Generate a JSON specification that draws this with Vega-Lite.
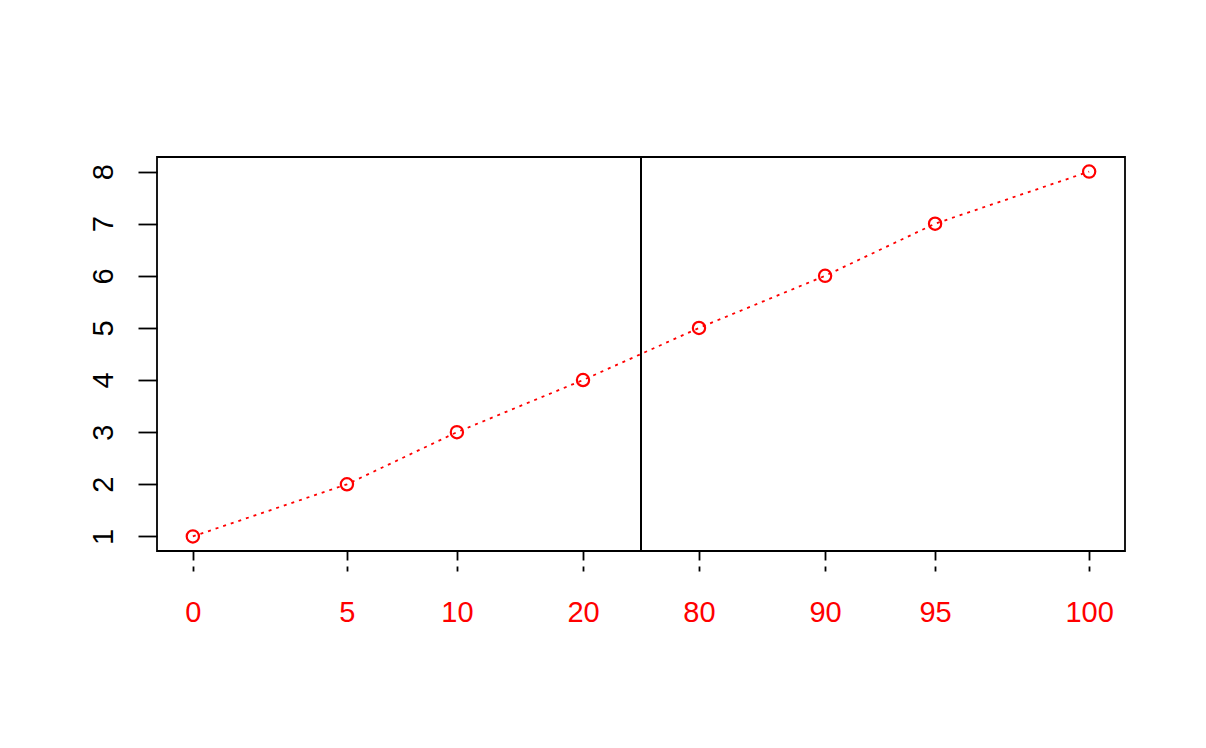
{
  "$schema": "https://vega.github.io/schema/vega-lite/v6.json",
  "autosize": {"type": "none"},
  "padding": {"left": 157, "top": 157, "right": 81, "bottom": 197},
  "width": 968,
  "height": 394,
  "background": "white",
  "config": {
    "view": {"stroke": "black", "strokeWidth": 1.8},
    "font": "Liberation Sans"
  },
  "data": {
    "values": [
      {"pos": 0, "y": 1, "label": "0"},
      {"pos": 17.19, "y": 2, "label": "5"},
      {"pos": 29.46, "y": 3, "label": "10"},
      {"pos": 43.53, "y": 4, "label": "20"},
      {"pos": 56.47, "y": 5, "label": "80"},
      {"pos": 70.54, "y": 6, "label": "90"},
      {"pos": 82.81, "y": 7, "label": "95"},
      {"pos": 100, "y": 8, "label": "100"}
    ]
  },
  "layer": [
    {
      "mark": {"type": "line", "color": "red", "strokeWidth": 1.8, "strokeDash": [3, 5]},
      "encoding": {
        "x": {
          "field": "pos", "type": "quantitative",
          "scale": {"domain": [-4, 104], "nice": false, "zero": false},
          "axis": {
            "title": null,
            "values": [0, 17.19, 29.46, 43.53, 56.47, 70.54, 82.81, 100],
            "labelExpr": "['0','5','10','20','80','90','95','100'][indexof([0, 17.19, 29.46, 43.53, 56.47, 70.54, 82.81, 100], datum.value)]",
            "domain": false,
            "grid": false,
            "ticks": true,
            "tickColor": "black",
            "tickSize": 20,
            "tickWidth": 1.8,
            "tickDash": [9, 6],
            "labelColor": "red",
            "labelFontSize": 29,
            "labelFont": "Liberation Sans",
            "labelBaseline": "alphabetic",
            "labelPadding": 50,
            "labelFlush": false,
            "labelOverlap": false
          }
        },
        "y": {
          "field": "y", "type": "quantitative",
          "scale": {"domain": [0.72, 8.28], "nice": false, "zero": false},
          "axis": {
            "title": null,
            "values": [1, 2, 3, 4, 5, 6, 7, 8],
            "domain": false,
            "grid": false,
            "tickColor": "black",
            "tickSize": 19,
            "tickWidth": 1.8,
            "labelColor": "black",
            "labelFontSize": 29,
            "labelFont": "Liberation Sans",
            "labelAngle": -90,
            "labelAlign": "center",
            "labelBaseline": "alphabetic",
            "labelPadding": 26,
            "labelFlush": false,
            "labelOverlap": false
          }
        }
      }
    },
    {
      "mark": {"type": "point", "shape": "circle", "color": "red", "filled": false, "size": 150, "strokeWidth": 2.2, "opacity": 1},
      "encoding": {
        "x": {"field": "pos", "type": "quantitative"},
        "y": {"field": "y", "type": "quantitative"}
      }
    },
    {
      "mark": {"type": "rule", "color": "black", "strokeWidth": 1.8},
      "encoding": {
        "x": {"datum": 50, "type": "quantitative"}
      }
    }
  ]
}
